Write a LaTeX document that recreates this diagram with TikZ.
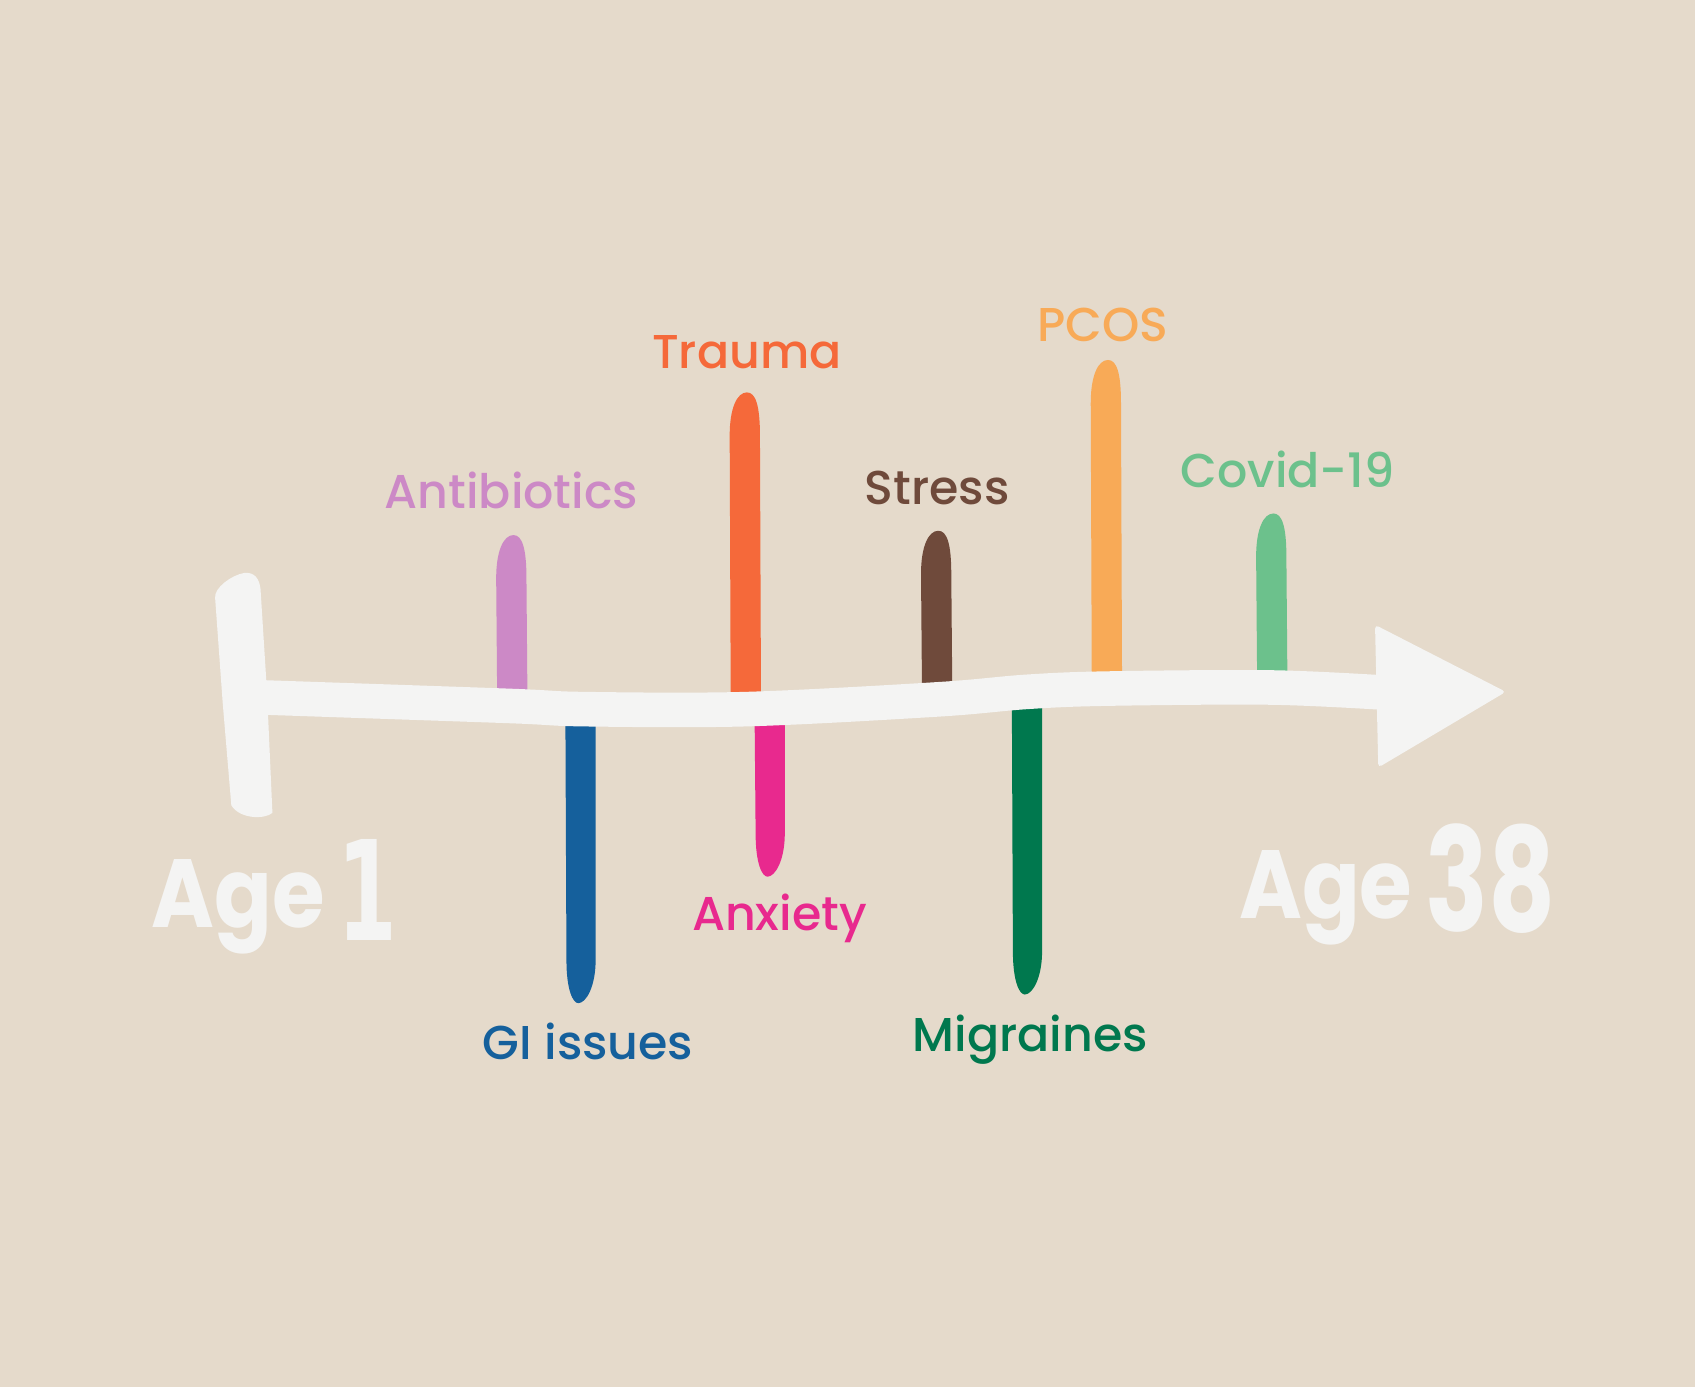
\documentclass[tikz,border=0pt]{standalone}
\usepackage{fontspec}
\IfFontExistsTF{Poppins Medium}{\newfontfamily\labfont{Poppins Medium}}{\newfontfamily\labfont{Poppins}}
\IfFontExistsTF{Poppins Bold}{\newfontfamily\agefont{Poppins Bold}}{\newfontfamily\agefont{Poppins}[FakeBold=2]}
\newfontfamily\onefont{DejaVu Sans}
\definecolor{bgc}{HTML}{E5DACB}
\definecolor{chalk}{HTML}{F4F4F3}
\definecolor{cantib}{HTML}{CC89C6}
\definecolor{ctrauma}{HTML}{F5693A}
\definecolor{cstress}{HTML}{6F4A3B}
\definecolor{cpcos}{HTML}{F8AA57}
\definecolor{ccovid}{HTML}{6CC18C}
\definecolor{cgi}{HTML}{15609C}
\definecolor{canx}{HTML}{E8298E}
\definecolor{cmigr}{HTML}{00784E}
\newcommand\barup[4]{%
 \fill[#4] ({#1-14},#3) -- ({#1-15},{#2+40}) .. controls ({#1-15},{#2+14}) and ({#1-8},#2) .. ({#1+1},#2) .. controls ({#1+9},#2) and ({#1+13},{#2+12}) .. ({#1+13},{#2+40}) -- ({#1+14},#3) -- cycle;}
\newcommand\bardown[4]{%
 \fill[#4] ({#1-14},#2) -- ({#1-13},{#3-40}) .. controls ({#1-13},{#3-12}) and ({#1-7},#3) .. ({#1-2},#3) .. controls ({#1+5},#3) and ({#1+14},{#3-15}) .. ({#1+14},{#3-40}) -- ({#1+14},#2) -- cycle;}
\tikzset{
 lab/.style={anchor=base, inner sep=0pt, font=\labfont\fontsize{25}{30}\selectfont},
 agew/.style={anchor=base west, inner sep=0pt, text=chalk},
}
\begin{document}
\begin{tikzpicture}[x=0.02cm,y=-0.02cm]
\fill[bgc] (0,0) rectangle (1568,1283);
\useasboundingbox (0,0) rectangle (1568,1283);
% bars above
\barup{474}{495}{655}{cantib}
\barup{690}{363}{656}{ctrauma}
\barup{867}{491}{648}{cstress}
\barup{1024}{333}{638}{cpcos}
\barup{1177}{475}{636}{ccovid}
% bars below
\bardown{537}{656}{928}{cgi}
\bardown{712}{656}{811}{canx}
\bardown{950}{640}{920}{cmigr}
% left end bar
\fill[chalk] (199,553) .. controls (198,544) and (214,532) .. (226,530)
  .. controls (236,529) and (240,536) .. (241,545) -- (247,640) -- (252,752)
  .. controls (245,758) and (222,758) .. (214,745) -- (206,650) -- cycle;
% shaft
\draw[chalk, line width=0.64cm] plot[smooth, tension=0.55] coordinates {(238,645) (470,653) (540,656) (690,656) (867,647) (950,640) (1024,637) (1177,636) (1285,641)};
% arrow head
\fill[chalk, rounded corners=2pt] (1272,578) -- (1393,640) -- (1275,710) -- cycle;
% labels
\node[lab, text=cantib] (antib) at (473,470) {Antibiotics};
\node[lab, text=ctrauma] (trauma) at (691,341) {Trauma};
\node[lab, text=cstress] (stress) at (867,467) {Stress};
\node[lab, text=cpcos] (pcos) at (1020,316) {PCOS};
\node[lab, text=ccovid] (covid) at (1191,451) {Covid-19};
\node[lab, text=cgi] (gi) at (544,980) {GI issues};
\node[lab, text=canx] (anx) at (721,861) {Anxiety};
\node[lab, text=cmigr] (migr) at (953,973) {Migraines};
% ages
\node[agew] (age1) at (140,858) {\agefont\fontsize{51}{60}\selectfont\scalebox{0.88}[1]{Age}};
\node[agew] (one) at (312,870) {\onefont\bfseries\fontsize{73}{80}\selectfont\scalebox{0.62}[1]{1}};
\node[agew] (age2) at (1146,850) {\agefont\fontsize{51}{60}\selectfont\scalebox{0.88}[1]{Age}};
\node[agew] (thirty) at (1318,862) {\agefont\fontsize{76}{80}\selectfont\scalebox{0.72}[1]{38}};
\end{tikzpicture}
\end{document}
